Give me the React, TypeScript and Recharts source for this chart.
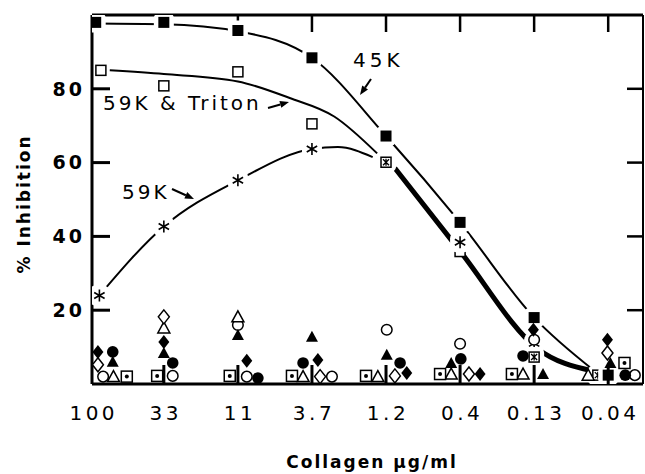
import React from "react";
import { ComposedChart, Line, Scatter, XAxis, YAxis, Customized } from "recharts";

// collagen dilution series, plotted at equal steps (0 = 100 µg/ml ... 7 = 0.04 µg/ml)
const concentrations = ["100", "33", "11", "3.7", "1.2", "0.4", "0.13", "0.04"];
const concSteps = [0, 1, 2, 3, 4, 5, 6, 7];
const innerSteps = [1, 2, 3, 4, 5, 6, 7];
const inhibitionTicks = [20, 40, 60, 80];

type Pt = [number, number];

// measured points [step, % inhibition]
const k45: Pt[] = [[0.08, 98], [1, 98], [2, 95.8], [3, 88.4], [4, 67.2], [5, 43.8], [6, 18], [7, 2.4]];
const k59Triton: Pt[] = [[0.15, 85], [1, 80.8], [2, 84.6], [3, 70.5], [5, 35.9], [6, 10]];
const k59: Pt[] = [[0.13, 24], [1, 42.7], [2, 55.2], [3, 63.7], [5, 38.4], [6, 11]];
const k59Both: Pt[] = [[4, 60.1], [6, 7.3], [6.86, 2.4]];

// hand drawn curves
const k45Curve: Pt[] = [[0.08, 97.7], [1, 97.5], [2, 95.6], [3, 88.4], [4, 67.2], [5, 43.8], [6, 18], [6.8, 3.8]];
const tritonCurve: Pt[] = [[0.27, 85], [1, 84], [2, 82], [2.7, 77.5], [3.3, 72.5], [3.88, 62.5]];
const k59Curve: Pt[] = [[0.13, 24], [1, 42.7], [2, 55.2], [3, 63.7], [3.35, 64.2], [3.82, 61.5]];
const commonCurve: Pt[] = [[4.12, 58.5], [5, 36], [6.05, 9.5], [6.78, 3.6]];

// control proteins, all near the baseline
const filledDiamond: Pt[] = [[0.11, 8.7], [1, 11.4], [2.12, 6.3], [3.08, 6.5], [4.28, 3], [5.27, 2.7], [5.99, 14.7], [6.99, 12]];
const filledCircle: Pt[] = [[0.31, 8.7], [1.12, 5.7], [2.27, 1.6], [2.88, 5.7], [4.19, 5.7], [5.01, 6.8], [5.85, 7.6], [7.23, 2.4]];
const openDiamond: Pt[] = [[0.11, 5.2], [1, 18.2], [3.11, 2], [4.12, 2.2], [5.12, 2.7], [6.99, 8.4]];
const filledTriangle: Pt[] = [[0.31, 6], [1, 8.4], [2, 13.3], [3, 12.8], [4.01, 7.9], [4.88, 5.7], [6.12, 2.7], [7.03, 5.7]];
const openCircle: Pt[] = [[0.18, 2], [1.12, 2.2], [2, 16], [2.12, 2], [3.27, 2], [4.01, 14.7], [5, 10.9], [6, 12], [7.36, 2.4]];
const openTriangle: Pt[] = [[0.32, 2], [1, 15.2], [2, 18.2], [2.88, 2], [3.89, 2], [4.88, 2.7], [5.85, 2.7], [6.73, 2.4]];
const dottedSquare: Pt[] = [[0.5, 2], [0.91, 2.2], [1.89, 2.2], [2.73, 2.2], [3.73, 2.2], [4.73, 2.7], [5.7, 2.7], [7.22, 5.7]];

const toRows = (pts: Pt[]) => pts.map(([x, y]) => ({ x, y }));

const FONT = "'DejaVu Sans', sans-serif";
const INK = "#000";
const X_DOMAIN: [number, number] = [0.03, 7.47];
const Y_DOMAIN: [number, number] = [0, 100];

// frame of the plot inside the 645x474 svg
const PLOT = { left: 92, right: 643, top: 15, bottom: 384 };
const stepToPx = (s: number) => PLOT.left + ((s - X_DOMAIN[0]) / (X_DOMAIN[1] - X_DOMAIN[0])) * (PLOT.right - PLOT.left);
const valToPx = (v: number) => PLOT.bottom - ((v - Y_DOMAIN[0]) / (Y_DOMAIN[1] - Y_DOMAIN[0])) * (PLOT.bottom - PLOT.top);

type Kind = "fsq" | "osq" | "hsq" | "ast" | "fdia" | "odia" | "fcir" | "ocir" | "ftri" | "otri" | "dsq";

function Marker({ cx, cy, kind, halo }: { cx?: number; cy?: number; kind: Kind; halo?: boolean }) {
  if (cx == null || cy == null) return null;
  const sw = 1.5;
  let body: React.ReactNode = null;
  switch (kind) {
    case "fsq":
      body = <rect x={cx - 5.5} y={cy - 5.5} width={11} height={11} fill={INK} />;
      break;
    case "osq":
      body = <rect x={cx - 5} y={cy - 5} width={10} height={10} fill="#fff" stroke={INK} strokeWidth={sw} />;
      break;
    case "hsq":
      body = (
        <g>
          <rect x={cx - 5} y={cy - 5} width={10} height={10} fill="#fff" stroke={INK} strokeWidth={sw} />
          <path d={`M${cx - 3} ${cy - 3}L${cx + 3} ${cy + 3}M${cx + 3} ${cy - 3}L${cx - 3} ${cy + 3}M${cx} ${cy - 3.5}V${cy + 3.5}`} stroke={INK} strokeWidth={1.3} />
        </g>
      );
      break;
    case "ast":
      body = (
        <path
          d={`M${cx} ${cy - 6}V${cy + 6}M${cx - 5.2} ${cy - 3}L${cx + 5.2} ${cy + 3}M${cx + 5.2} ${cy - 3}L${cx - 5.2} ${cy + 3}`}
          stroke={INK}
          strokeWidth={1.6}
        />
      );
      break;
    case "fdia":
    case "odia":
      body = (
        <polygon
          points={`${cx},${cy - 7} ${cx + 5.5},${cy} ${cx},${cy + 7} ${cx - 5.5},${cy}`}
          fill={kind === "fdia" ? INK : "#fff"}
          stroke={INK}
          strokeWidth={kind === "fdia" ? 0 : sw}
        />
      );
      break;
    case "fcir":
      body = <circle cx={cx} cy={cy} r={5.8} fill={INK} />;
      break;
    case "ocir":
      body = <circle cx={cx} cy={cy} r={5.3} fill="#fff" stroke={INK} strokeWidth={sw} />;
      break;
    case "ftri":
    case "otri":
      body = (
        <polygon
          points={`${cx},${cy - 6} ${cx + 6},${cy + 5} ${cx - 6},${cy + 5}`}
          fill={kind === "ftri" ? INK : "#fff"}
          stroke={INK}
          strokeWidth={kind === "ftri" ? 0 : sw}
        />
      );
      break;
    case "dsq":
      body = (
        <g>
          <rect x={cx - 5.5} y={cy - 5.5} width={11} height={11} fill="#fff" stroke={INK} strokeWidth={sw} />
          <circle cx={cx} cy={cy} r={2} fill={INK} />
        </g>
      );
      break;
  }
  return (
    <g>
      {halo && <rect x={cx - 10} y={cy - 10} width={20} height={20} rx={6} fill="#fff" />}
      {body}
    </g>
  );
}

const shapeOf = (kind: Kind, halo = false) => (props: any) => <Marker cx={props.cx} cy={props.cy} kind={kind} halo={halo} />;

function BottomTick(props: any) {
  const { x, y, payload } = props;
  const i = payload.value as number;
  return (
    <g>
      {i > 0 && <line x1={x} x2={x} y1={y} y2={y - 19} stroke={INK} strokeWidth={3} />}
      <text x={x + (i === 0 ? 4 : 2)} y={y + 36} textAnchor="middle" fontFamily={FONT} fontSize={20} letterSpacing={3.5} fill={INK}>
        {concentrations[i]}
      </text>
    </g>
  );
}

function LeftTick(props: any) {
  const { x, y, payload } = props;
  return (
    <g>
      <line x1={x} x2={x + 18} y1={y} y2={y} stroke={INK} strokeWidth={3} />
      <text x={x - 7} y={y} dy="0.36em" textAnchor="end" fontFamily={FONT} fontWeight="bold" fontSize={19} letterSpacing={3} fill={INK}>
        {payload.value}
      </text>
    </g>
  );
}

function Arrow({ x1, y1, x2, y2 }: { x1: number; y1: number; x2: number; y2: number }) {
  const a = Math.atan2(y2 - y1, x2 - x1);
  const len = 9;
  const w = 3.5;
  const bx = x2 - len * Math.cos(a);
  const by = y2 - len * Math.sin(a);
  const px = -Math.sin(a) * w;
  const py = Math.cos(a) * w;
  return (
    <g>
      <line x1={x1} y1={y1} x2={bx} y2={by} stroke={INK} strokeWidth={2} />
      <polygon points={`${x2},${y2} ${bx + px},${by + py} ${bx - px},${by - py}`} fill={INK} />
    </g>
  );
}

function Annotations() {
  const label = { fontFamily: FONT, fontSize: 20, letterSpacing: 3, fill: INK } as const;
  return (
    <g>
      {/* inward ticks on the top and right edges */}
      {innerSteps.map((s) => (
        <line key={`t${s}`} x1={stepToPx(s)} x2={stepToPx(s)} y1={PLOT.top} y2={PLOT.top + 17} stroke={INK} strokeWidth={2.5} />
      ))}
      {inhibitionTicks.map((v) => (
        <line key={`r${v}`} x1={PLOT.right} x2={PLOT.right - 16} y1={valToPx(v)} y2={valToPx(v)} stroke={INK} strokeWidth={2.5} />
      ))}

      <text x={353} y={67} {...label} letterSpacing={4}>45K</text>
      <Arrow x1={371} y1={79} x2={360} y2={95} />
      <text x={103} y={110} {...label}>59K &amp; Triton</text>
      <Arrow x1={268} y1={108} x2={289} y2={102} />
      <text x={122} y={199} {...label}>59K</text>
      <Arrow x1={172} y1={189} x2={194} y2={199} />
      <text transform="translate(30,204) rotate(-90)" textAnchor="middle" fontFamily={FONT} fontWeight="bold" fontSize={17} letterSpacing={2} fill={INK}>
        % Inhibition
      </text>
      <text x={372} y={468} textAnchor="middle" fontFamily={FONT} fontWeight="bold" fontSize={17} letterSpacing={2} fill={INK}>
        Collagen μg/ml
      </text>
    </g>
  );
}

const axisStroke = { stroke: INK, strokeWidth: 3 };

export default function App() {
  return (
    <div style={{ width: 645, height: 474, background: "#fff" }}>
      <style>{"body{margin:0;background:#fff}"}</style>
      <ComposedChart width={645} height={474} margin={{ top: 0, right: 0, bottom: 0, left: 0 }}>
        <XAxis
          dataKey="x"
          type="number"
          domain={X_DOMAIN}
          allowDataOverflow
          ticks={concSteps}
          interval={0}
          height={90}
          tickSize={0}
          tickMargin={0}
          tickLine={false}
          axisLine={axisStroke}
          tick={(p: any) => <BottomTick {...p} />}
        />
        <XAxis
          xAxisId="top"
          orientation="top"
          dataKey="x"
          type="number"
          domain={X_DOMAIN}
          allowDataOverflow
          height={PLOT.top}
          tick={false}
          tickLine={false}
          axisLine={axisStroke}
        />
        <YAxis
          type="number"
          domain={Y_DOMAIN}
          allowDataOverflow
          ticks={inhibitionTicks}
          interval={0}
          width={PLOT.left}
          tickSize={0}
          tickMargin={0}
          tickLine={false}
          axisLine={axisStroke}
          tick={(p: any) => <LeftTick {...p} />}
        />
        <YAxis
          yAxisId="right"
          orientation="right"
          type="number"
          domain={Y_DOMAIN}
          allowDataOverflow
          width={645 - PLOT.right}
          tick={false}
          tickLine={false}
          axisLine={{ stroke: INK, strokeWidth: 2 }}
        />

        <Line data={toRows(k45Curve)} dataKey="y" type="monotone" stroke={INK} strokeWidth={2} dot={false} isAnimationActive={false} />
        <Line data={toRows(tritonCurve)} dataKey="y" type="monotone" stroke={INK} strokeWidth={2} dot={false} isAnimationActive={false} />
        <Line data={toRows(k59Curve)} dataKey="y" type="monotone" stroke={INK} strokeWidth={2} dot={false} isAnimationActive={false} />
        <Line data={toRows(commonCurve)} dataKey="y" type="monotone" stroke={INK} strokeWidth={5} dot={false} isAnimationActive={false} />

        <Scatter data={toRows(k59Triton)} dataKey="y" shape={shapeOf("osq")} isAnimationActive={false} />
        <Scatter data={toRows(k59)} dataKey="y" shape={shapeOf("ast", true)} isAnimationActive={false} />
        <Scatter data={toRows(k59Both)} dataKey="y" shape={shapeOf("hsq", true)} isAnimationActive={false} />
        <Scatter data={toRows(k45)} dataKey="y" shape={shapeOf("fsq", true)} isAnimationActive={false} />

        <Scatter data={toRows(openCircle)} dataKey="y" shape={shapeOf("ocir")} isAnimationActive={false} />
        <Scatter data={toRows(openTriangle)} dataKey="y" shape={shapeOf("otri")} isAnimationActive={false} />
        <Scatter data={toRows(dottedSquare)} dataKey="y" shape={shapeOf("dsq")} isAnimationActive={false} />
        <Scatter data={toRows(openDiamond)} dataKey="y" shape={shapeOf("odia")} isAnimationActive={false} />
        <Scatter data={toRows(filledTriangle)} dataKey="y" shape={shapeOf("ftri")} isAnimationActive={false} />
        <Scatter data={toRows(filledCircle)} dataKey="y" shape={shapeOf("fcir")} isAnimationActive={false} />
        <Scatter data={toRows(filledDiamond)} dataKey="y" shape={shapeOf("fdia")} isAnimationActive={false} />

        <Customized component={<Annotations />} />
      </ComposedChart>
    </div>
  );
}
